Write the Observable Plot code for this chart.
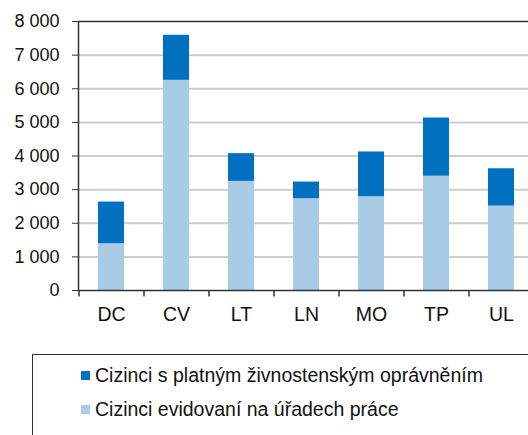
<!DOCTYPE html>
<html>
<head>
<meta charset="utf-8">
<script src="https://cdn.jsdelivr.net/npm/d3@7"></script>
<script src="https://cdn.jsdelivr.net/npm/@observablehq/plot@0.6"></script>
<style>
  html, body { margin: 0; padding: 0; background: #fff; }
  body { width: 528px; height: 435px; overflow: hidden; font-family: "Liberation Sans", Arial, sans-serif; }
  #wrap { position: relative; width: 528px; height: 435px; }
  #legend { position: absolute; left: 32px; top: 354px; width: 520px; height: 120px; border: 1.5px solid #333; box-sizing: border-box; }
  .item { position: absolute; left: 48px; font-size: 19.5px; color: #111; white-space: nowrap; line-height: 20px; }
  .sw { display: inline-block; width: 9px; height: 9px; margin-right: 5px; vertical-align: 2px; }
</style>
</head>
<body>
<div id="wrap">
  <div id="chart"></div>
  <div id="legend"></div>
</div>
<script>
const categories = ["DC", "CV", "LT", "LN", "MO", "TP", "UL"];
const seriesNames = ["Cizinci s platným živnostenským oprávněním", "Cizinci evidovaní na úřadech práce"];
const seriesColors = ["#0070c0", "#a8cce6"];
// Cizinci evidovaní na úřadech práce (bottom, light)
const evidovani = [1390, 6250, 3245, 2730, 2790, 3400, 2510];
// Cizinci s platným živnostenským oprávněním (top, dark) — segment size
const zivnost = [1240, 1340, 825, 495, 1330, 1730, 1110];
const yTicks = [0, 1000, 2000, 3000, 4000, 5000, 6000, 7000, 8000];

const data = [];
categories.forEach((c, i) => {
  data.push({kraj: c, series: seriesNames[1], value: evidovani[i]});
  data.push({kraj: c, series: seriesNames[0], value: zivnost[i]});
});

const fmt = d => d3.format(",")(d).replace(/,/g, " ");
const width = 528, marginLeft = 78, marginRight = -5;
const step = (width - marginLeft - marginRight) / categories.length;

const chart = Plot.plot({
  width: width,
  height: 330,
  marginTop: 21,
  marginBottom: 40,
  marginLeft: marginLeft,
  marginRight: marginRight,
  style: { fontFamily: "'Liberation Sans', Arial, sans-serif", fontSize: "18px", color: "#111", background: "#fff" },
  x: { domain: categories, paddingInner: 0.6, paddingOuter: 0.3, label: null },
  y: { domain: [0, 8000], label: null },
  color: { domain: seriesNames, range: seriesColors },
  marks: [
    Plot.ruleY(yTicks.filter(d => d > 0 && d < 8000), { stroke: "#cdcdcd", strokeWidth: 2 }),
    Plot.barY(data, { x: "kraj", y: "value", fill: "series", order: [seriesNames[1], seriesNames[0]] }),
    Plot.frame({ stroke: "#333", strokeWidth: 1.5 }),
    Plot.axisY({ ticks: yTicks, tickFormat: fmt, tickSize: 6, tickPadding: 13, stroke: "#333", label: null, fontSize: 18 }),
    Plot.axisX({ tickSize: 0, tickPadding: 17, label: null, fontSize: 19.5 }),
    Plot.ruleX(categories, { x: d => d, dx: -step / 2, y1: 0, y2: -190, stroke: "#333", strokeWidth: 1.5 })
  ]
});
document.getElementById("chart").appendChild(chart);

const legend = document.getElementById("legend");
[0, 1].forEach(i => {
  const it = document.createElement("div");
  it.className = "item";
  it.style.top = (i === 0 ? 10 : 44) + "px";
  it.innerHTML = `<span class="sw" style="background:${seriesColors[i]}"></span>${seriesNames[i]}`;
  legend.appendChild(it);
});
</script>
</body>
</html>
